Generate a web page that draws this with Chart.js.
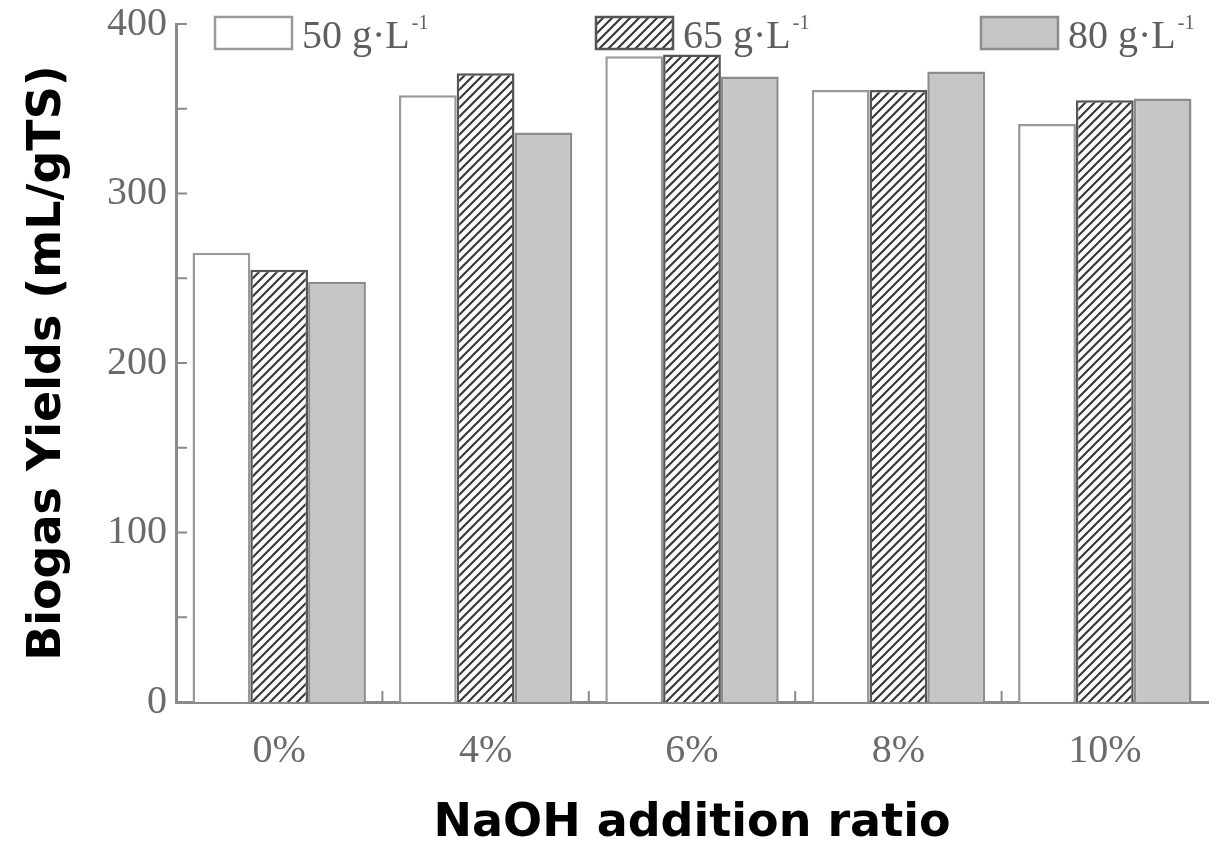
<!DOCTYPE html>
<html>
<head>
<meta charset="utf-8">
<script src="https://cdn.jsdelivr.net/npm/chart.js@4/dist/chart.umd.min.js"></script>
<style>
  html, body { margin: 0; padding: 0; background: #fff; }
</style>
</head>
<body>
<canvas id="chart" width="1218" height="852"></canvas>
<script>
// data
const categories = ['0%', '4%', '6%', '8%', '10%'];
const seriesNames = ['50 g·L⁻¹', '65 g·L⁻¹', '80 g·L⁻¹'];
const yield50 = [265, 358, 381, 361, 341];
const yield65 = [255, 371, 382, 361, 355];
const yield80 = [248, 336, 369, 372, 356];
const yMax = 400;

// diagonal hatch for the middle series
function makeHatch() {
  const c = document.createElement('canvas');
  c.width = 9; c.height = 9;
  const g = c.getContext('2d');
  g.fillStyle = '#ffffff';
  g.fillRect(0, 0, 9, 9);
  g.strokeStyle = '#3a3a3a';
  g.lineWidth = 2.2;
  g.beginPath();
  g.moveTo(-1, 10); g.lineTo(10, -1);
  g.moveTo(-5, 5); g.lineTo(5, -5);
  g.moveTo(4, 14); g.lineTo(14, 4);
  g.stroke();
  return g.createPattern(c, 'repeat');
}

const ctx = document.getElementById('chart').getContext('2d');
const hatch = makeHatch();

// short tick marks pointing into the plot
const innerTicks = {
  id: 'innerTicks',
  afterDatasetsDraw(chart) {
    const { ctx, chartArea: a, scales: { x, y } } = chart;
    ctx.save();
    ctx.strokeStyle = '#8a8a8a';
    ctx.lineWidth = 2;
    y.ticks.forEach(t => {
      const py = y.getPixelForValue(t.value);
      ctx.beginPath();
      ctx.moveTo(a.left, py);
      ctx.lineTo(a.left + 11, py);
      ctx.stroke();
    });
    for (let i = 1; i < categories.length; i++) {
      const px = (x.getPixelForValue(i - 1) + x.getPixelForValue(i)) / 2;
      ctx.beginPath();
      ctx.moveTo(px, a.bottom);
      ctx.lineTo(px, a.bottom - 11);
      ctx.stroke();
    }
    ctx.restore();
  }
};

// legend drawn inside the top of the plot like the original
const innerLegend = {
  id: 'innerLegend',
  afterDraw(chart, args, opts) {
    const { ctx } = chart;
    ctx.save();
    chart.data.datasets.forEach((ds, i) => {
      const x0 = opts.xs[i], y0 = 17, w = 77, h = 32;
      ctx.fillStyle = ds.backgroundColor;
      ctx.fillRect(x0, y0, w, h);
      ctx.strokeStyle = ds.borderColor;
      ctx.lineWidth = 2.5;
      ctx.strokeRect(x0, y0, w, h);
      const parts = ds.label.split('⁻¹');
      ctx.fillStyle = '#5e5e5e';
      ctx.textBaseline = 'alphabetic';
      ctx.font = '40px "Liberation Serif"';
      const tx = x0 + w + 10;
      ctx.fillText(parts[0], tx, y0 + 31);
      const tw = ctx.measureText(parts[0]).width;
      ctx.font = '20px "Liberation Serif"';
      ctx.fillText('-1', tx + tw + 2, y0 + 12);
    });
    ctx.restore();
  }
};

new Chart(ctx, {
  type: 'bar',
  data: {
    labels: categories,
    datasets: [
      { label: seriesNames[0], data: yield50, backgroundColor: '#ffffff', borderColor: '#9a9a9a', borderWidth: 2.5 },
      { label: seriesNames[1], data: yield65, backgroundColor: hatch, borderColor: '#555555', borderWidth: 2.5 },
      { label: seriesNames[2], data: yield80, backgroundColor: '#c6c6c6', borderColor: '#8c8c8c', borderWidth: 2.5 }
    ]
  },
  plugins: [innerTicks, innerLegend],
  options: {
    responsive: false,
    animation: false,
    layout: { padding: { top: 24, right: 10, bottom: 0, left: 0 } },
    datasets: { bar: { categoryPercentage: 0.84, barPercentage: 1.0 } },
    plugins: {
      legend: { display: false },
      tooltip: { enabled: false },
      innerLegend: { xs: [215, 596, 981] }
    },
    scales: {
      x: {
        grid: { display: false, drawTicks: false },
        border: { display: true, color: '#8a8a8a', width: 3 },
        ticks: { color: '#6a6a6a', font: { family: 'Liberation Serif', size: 40 }, padding: 25 },
        title: {
          display: true,
          text: 'NaOH addition ratio',
          color: '#000',
          font: { family: 'DejaVu Sans', size: 46, weight: 'bold' },
          padding: { top: 0, bottom: 0 }
        },
        afterFit(scale) { scale.height = 150; }
      },
      y: {
        min: 0,
        max: yMax,
        grid: { display: false, drawTicks: false },
        border: { display: true, color: '#8a8a8a', width: 3 },
        ticks: {
          stepSize: 50,
          color: '#6a6a6a',
          font: { family: 'Liberation Serif', size: 40 },
          padding: 9,
          callback: v => (v % 100 === 0 ? v : '')
        },
        title: {
          display: true,
          text: 'Biogas Yields (mL/gTS)',
          color: '#000',
          font: { family: 'DejaVu Sans', size: 46, weight: 'bold' },
          padding: { top: 20, bottom: 20 }
        },
        afterFit(scale) {
          scale.width = 176;
          scale.paddingTop = 0;
          scale.paddingBottom = 0;
        }
      }
    }
  }
});
</script>
</body>
</html>
